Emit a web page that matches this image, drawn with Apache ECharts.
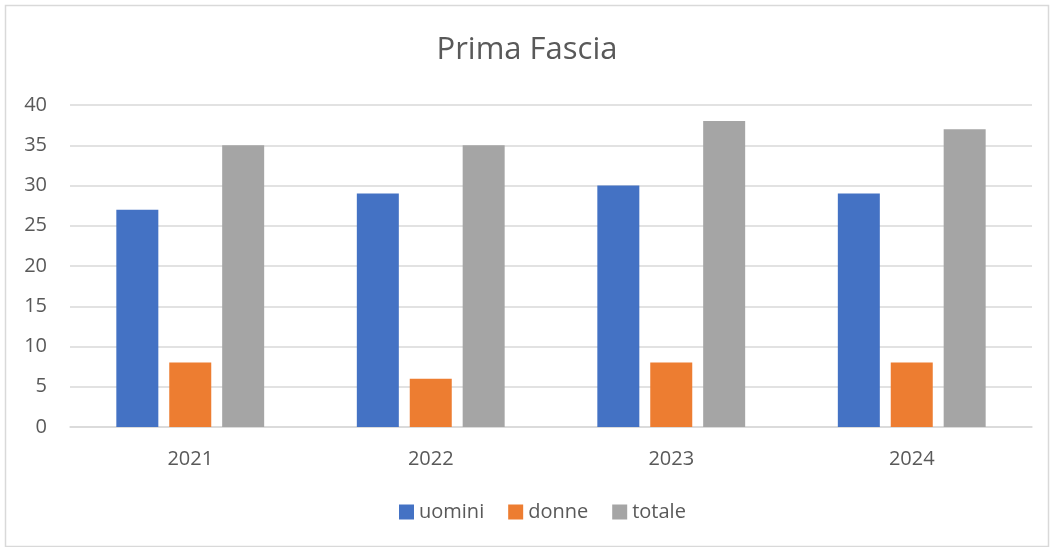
<!DOCTYPE html>
<html>
<head>
<meta charset="utf-8">
<script src="https://cdn.jsdelivr.net/npm/echarts@6/dist/echarts.min.js"></script>
<style>
	html, body { margin: 0; padding: 0; background: #fff; }
	#chart { width: 1054px; height: 547px; }
</style>
</head>
<body>
<div id="chart"></div>
<script>
// dati
const anni = ['2021', '2022', '2023', '2024'];
const uomini = [27, 29, 30, 29];
const donne = [8, 6, 8, 8];
const totale = [35, 35, 38, 37];

(function() {
	let myChart = echarts.init(document.getElementById('chart'));
	let testo = '#595959';

	let option = {
		animation: false,
		color: ['#4472C4', '#ED7D31', '#A5A5A5'],
		title: {
			text: 'Prima Fascia',
			left: 'center',
			top: 30,
			textStyle: {
				color: testo,
				fontSize: 31,
				fontWeight: 'normal',
				fontFamily: 'Open Sans'
			}
		},
		graphic: [{
			type: 'rect',
			shape: { x: 5.5, y: 5.5, width: 1043, height: 541 },
			style: { fill: 'none', stroke: '#d9d9d9', lineWidth: 1.5 },
			silent: true
		}],
		legend: {
			bottom: 20,
			left: 394,
			itemWidth: 15,
			itemHeight: 15,
			itemGap: 24,
			icon: 'rect',
			textStyle: { color: testo, fontSize: 20, fontFamily: 'Open Sans' },
			data: ['uomini', 'donne', 'totale']
		},
		grid: {
			left: 70,
			right: 22,
			top: 105,
			bottom: 120
		},
		xAxis: {
			type: 'category',
			data: anni,
			axisTick: { show: false },
			axisLine: { lineStyle: { color: '#d9d9d9', width: 1.5 } },
			axisLabel: { color: testo, fontSize: 20, margin: 22, fontFamily: 'Open Sans' }
		},
		yAxis: {
			type: 'value',
			min: 0,
			max: 40,
			interval: 5,
			axisLine: { show: false },
			axisTick: { show: false },
			axisLabel: { color: testo, fontSize: 20, margin: 23, fontFamily: 'Open Sans' },
			splitLine: { lineStyle: { color: '#d9d9d9', width: 1.5 } }
		},
		series: [
			{ name: 'uomini', type: 'bar', barWidth: 42, barGap: '26%', data: uomini },
			{ name: 'donne', type: 'bar', barWidth: 42, barGap: '26%', data: donne },
			{ name: 'totale', type: 'bar', barWidth: 42, barGap: '26%', data: totale }
		]
	};

	myChart.setOption(option);
	window.addEventListener('resize', function() {
		myChart.resize();
	});
})();
</script>
</body>
</html>
